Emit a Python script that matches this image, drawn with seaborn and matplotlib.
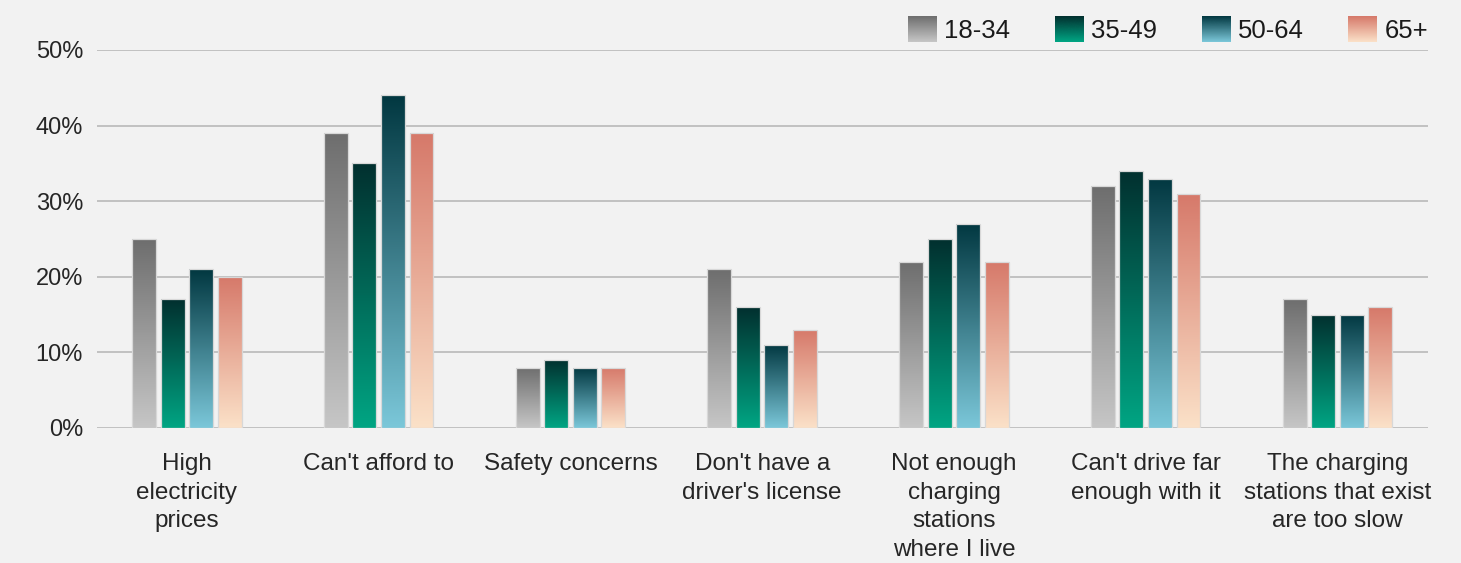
import numpy as np
import pandas as pd
import seaborn as sns
import matplotlib
matplotlib.use("Agg")
from matplotlib import pyplot as plt
from matplotlib.colors import LinearSegmentedColormap, Normalize
from matplotlib.legend_handler import HandlerBase
from matplotlib.image import BboxImage
from matplotlib.transforms import Bbox, TransformedBbox
from matplotlib.patches import Patch


# Data (percent).
categories = [
    "High\nelectricity\nprices",
    "Can't afford to",
    "Safety concerns",
    "Don't have a\ndriver's license",
    "Not enough\ncharging\nstations\nwhere I live",
    "Can't drive far\nenough with it",
    "The charging\nstations that exist\nare too slow",
]
age_groups = ["18-34", "35-49", "50-64", "65+"]
vals_18_34 = [25, 39, 8, 21, 22, 32, 17]
vals_35_49 = [17, 35, 9, 16, 25, 34, 15]
vals_50_64 = [21, 44, 8, 11, 27, 33, 15]
vals_65_plus = [20, 39, 8, 13, 22, 31, 16]

# Gradient (top colour, bottom colour) for each age group.
gradients = {
    "18-34": ("#6e6e6e", "#c6c6c6"),
    "35-49": ("#02302f", "#00a583"),
    "50-64": ("#023841", "#7bc7d9"),
    "65+": ("#d6796a", "#fbe1c8"),
}

df = pd.DataFrame({
    "reason": categories * 4,
    "age": np.repeat(age_groups, len(categories)),
    "share": vals_18_34 + vals_35_49 + vals_50_64 + vals_65_plus,
})

BG = "#f2f2f2"
sns.set_style("white", rc={"axes.facecolor": BG, "figure.facecolor": BG})
plt.rcParams["font.family"] = ["Liberation Sans", "DejaVu Sans"]
plt.rcParams["text.color"] = "#1a1a1a"

cmaps = {k: LinearSegmentedColormap.from_list(k, list(v)) for k, v in gradients.items()}

fig = plt.figure(figsize=(14.61, 5.63), dpi=100)
ax = fig.add_axes([97 / 1461, 1 - 428 / 563, 1331 / 1461, 378 / 563])

sns.barplot(data=df, x="reason", y="share", hue="age", order=categories,
            hue_order=age_groups, width=0.595, gap=0.16, legend=False,
            edgecolor="#d8d8d8", linewidth=0.9, ax=ax, zorder=3)

# Paint each bar with a vertical gradient (dark top, light bottom).
grad = np.linspace(0, 1, 128).reshape(-1, 1)
for age, container in zip(age_groups, ax.containers):
    for bar in container:
        x0 = bar.get_x()
        w = bar.get_width()
        h = bar.get_height()
        im = ax.imshow(grad, cmap=cmaps[age], norm=Normalize(0, 1), aspect="auto",
                       origin="upper", extent=(x0, x0 + w, 0, h),
                       interpolation="bicubic", zorder=2.5)
        im.set_clip_path(bar)
        bar.set_facecolor("none")

ax.set_xlim(-0.469, 6.472)
ax.set_ylim(0, 50)
ax.set_yticks(range(0, 51, 10))
ax.set_yticklabels([f"{v}%" for v in range(0, 51, 10)])
ax.yaxis.grid(True, color="#b4b4b4", linewidth=1.1, zorder=0)
ax.set_axisbelow(True)
ax.tick_params(axis="y", length=0, pad=10, labelsize=17)
ax.tick_params(axis="x", length=0, pad=18, labelsize=17.5)
for lbl in ax.get_xticklabels():
    lbl.set_linespacing(1.39)
ax.set_xlabel("")
ax.set_ylabel("")
sns.despine(ax=ax, left=True, bottom=True)


class GradientHandler(HandlerBase):
    def __init__(self, cmap):
        super().__init__()
        self.cmap = cmap

    def create_artists(self, legend, orig_handle, xdescent, ydescent,
                       width, height, fontsize, trans):
        bb = Bbox.from_bounds(-xdescent, -ydescent, width, height)
        img = BboxImage(TransformedBbox(bb, trans), cmap=self.cmap,
                        norm=Normalize(0, 1), interpolation="bicubic")
        img.set_data(np.linspace(0, 1, 64).reshape(-1, 1))
        return [img]


handles = [Patch(label=a) for a in age_groups]
fig.legend(handles=handles, labels=age_groups, loc="center right",
           bbox_to_anchor=(1428 / 1461, 1 - 30 / 563), ncol=4, frameon=False,
           fontsize=18.5, borderpad=0, borderaxespad=0, handlelength=1.1,
           handleheight=1.15, handletextpad=0.3, columnspacing=1.75,
           handler_map={h: GradientHandler(cmaps[a]) for h, a in zip(handles, age_groups)})

fig.savefig("out.png", dpi=100, facecolor=BG)
